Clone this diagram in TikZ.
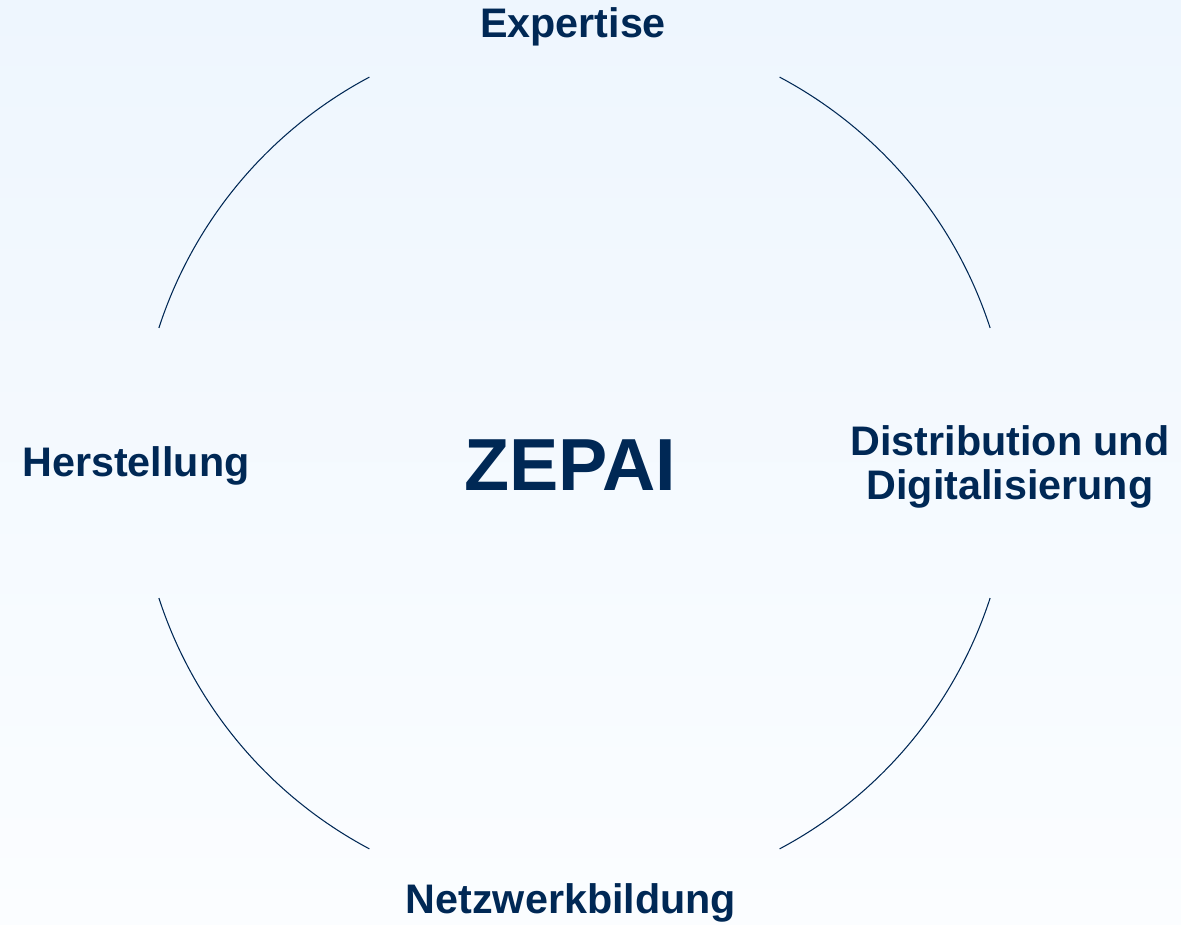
\documentclass[tikz,border=0pt]{standalone}
\usepackage{fontspec}
\setmainfont{Liberation Sans}
\definecolor{zepainavy}{RGB}{0,40,85}
\definecolor{bgtop}{RGB}{238,246,254}
\definecolor{bgbottom}{RGB}{251,253,255}
\tikzset{
  lbl/.style={text=zepainavy,font=\fontsize{23.5}{25}\selectfont\bfseries,inner sep=0pt,anchor=base},
  ring/.style={draw=zepainavy,line width=0.6pt}
}
\begin{document}
\begin{tikzpicture}[x=0.02cm,y=0.02cm]
    \shade[top color=bgtop,bottom color=bgbottom] (0,0) rectangle (1181,924);
    \useasboundingbox (0,0) rectangle (1181,924);
    \coordinate (c) at (574.5,461);
    \foreach \a in {18,118,198,298}
      \draw[ring] (c) ++(\a:437) arc[start angle=\a,end angle=\a+44,radius=437];
    \node[lbl] (expertise) at (573,886) {Expertise};
    \node[lbl] (herstellung) at (136,447) {Herstellung};
    \node[lbl] (netzwerk) at (571,11) {Netzwerkbildung};
    \node[lbl,align=center,anchor=center] (distribution) at (1010,457) {Distribution und\\Digitalisierung};
    \node[lbl,font=\fontsize{42}{44}\selectfont\bfseries] (zepai) at (570,433) {ZEPAI};
\end{tikzpicture}
\end{document}
